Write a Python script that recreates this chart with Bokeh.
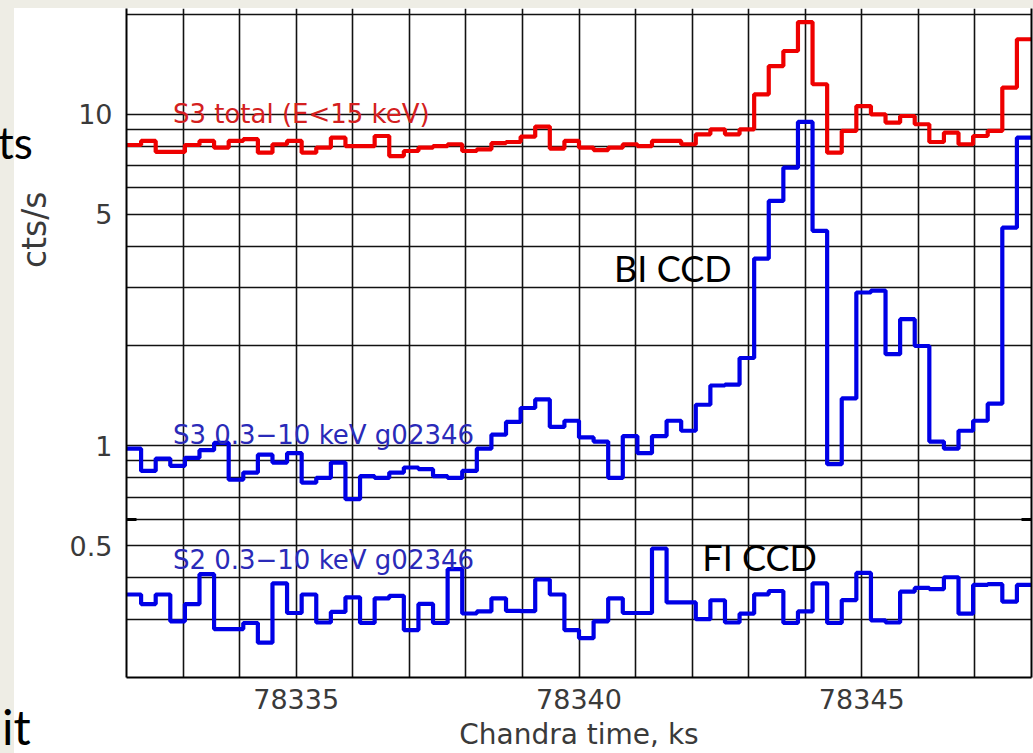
import numpy as np
from bokeh.plotting import figure
from bokeh.layouts import column
from bokeh.models import Range1d, FixedTicker, LogAxis, Label, Title, Div, CustomJSTickFormatter
from bokeh.embed import file_html
from bokeh.resources import INLINE

# ---------------- data ----------------
T_START = 78332.0          # ks, first bin edge
T_END = 78348.0            # ks, last bin edge
N_BINS = 62

# S3 total (E<15 keV), cts/s
s3_total = [8.08, 8.31, 7.70, 7.70, 8.08, 8.31, 7.93, 8.31, 8.41, 7.66,
            8.12, 8.31, 7.66, 7.93, 8.50, 8.02, 8.02, 8.60, 7.48, 7.75,
            7.93, 8.02, 8.12, 7.75, 7.84, 8.18, 8.25, 8.56, 9.18, 7.88,
            8.31, 7.93, 7.80, 7.93, 8.12, 8.02, 8.31, 8.31, 8.12, 8.70,
            9.01, 8.70, 9.01, 11.49, 13.98, 15.52, 18.98, 12.32, 7.66, 8.91,
            10.59, 10.0, 9.44, 9.88, 9.33, 8.25, 8.80, 8.12, 8.60, 8.91,
            12.04, 16.84]

# S3 0.3-10 keV g02346 (BI CCD), cts/s
s3_bi = [0.98, 0.84, 0.915, 0.87, 0.92, 0.97, 1.02, 0.79, 0.83, 0.94,
         0.89, 0.95, 0.774, 0.80, 0.89, 0.69, 0.81, 0.80, 0.83, 0.86,
         0.85, 0.81, 0.80, 0.84, 0.98, 1.08, 1.18, 1.30, 1.38, 1.14,
         1.19, 1.06, 1.03, 0.80, 1.07, 0.95, 1.07, 1.19, 1.11, 1.33,
         1.52, 1.53, 1.84, 3.67, 5.48, 6.90, 9.48, 4.45, 0.88, 1.39,
         2.90, 2.94, 1.89, 2.41, 2.00, 1.03, 0.98, 1.11, 1.19, 1.34,
         4.55, 8.50]

# S2 0.3-10 keV g02346 (FI CCD), cts/s
s2_fi = [0.356, 0.333, 0.356, 0.2955, 0.333, 0.410, 0.280, 0.280, 0.292, 0.2547,
         0.3846, 0.313, 0.356, 0.293, 0.3154, 0.349, 0.292, 0.3467, 0.3527, 0.278,
         0.3335, 0.292, 0.4245, 0.312, 0.3165, 0.3467, 0.3175, 0.317, 0.395, 0.356,
         0.278, 0.2628, 0.2955, 0.3467, 0.313, 0.313, 0.4899, 0.3369, 0.3369, 0.300,
         0.342, 0.293, 0.3115, 0.3565, 0.3647, 0.292, 0.3165, 0.3846, 0.292, 0.3425,
         0.4135, 0.2975, 0.293, 0.363, 0.3726, 0.3696, 0.4013, 0.3115, 0.3804, 0.3825,
         0.3387, 0.3804]

x_tick_values = [78335, 78340, 78345]
x_grid_values = [78333, 78334, 78335, 78336, 78337, 78338, 78339, 78340,
                 78341, 78342, 78343, 78344, 78345, 78346, 78347]
y_tick_values = [0.5, 1, 5, 10]
y_grid_values = [0.3, 0.4, 0.5, 0.6, 0.7, 0.8, 0.9, 1, 2, 3, 4, 5, 6, 7, 8, 9, 10, 20]
y_break_value = 0.6

# ---------------- figure ----------------
edges = T_START + (T_END - T_START) / N_BINS * np.arange(N_BINS + 1)


def stepped(vals):
    return list(vals) + [vals[-1]]


BEIGE = "#eeede5"
p = figure(width=1033, height=753,
           x_range=Range1d(T_START, T_END), y_range=Range1d(0.2, 20.85),
           y_axis_type="log", output_backend="svg", toolbar_location=None,
           min_border_left=126, min_border_right=2, min_border_top=8, min_border_bottom=76)
p.background_fill_color = "white"
p.border_fill_color = None
p.styles = {"background": "linear-gradient(to right, %s 14px, rgba(0,0,0,0) 14px), "
                          "linear-gradient(to bottom, %s 8px, #ffffff 8px)" % (BEIGE, BEIGE)}
p.outline_line_color = None

GRID = "#111111"
p.xgrid.ticker = FixedTicker(ticks=x_grid_values)
p.ygrid.ticker = FixedTicker(ticks=y_grid_values)
for g in (p.xgrid, p.ygrid):
    g.grid_line_color = GRID
    g.grid_line_width = 1.6
p.ygrid.minor_grid_line_color = None

TICK_FONT = "DejaVu Sans"
TXT = "#3a3a3a"
# x axis
xa = p.xaxis[0]
xa.ticker = FixedTicker(ticks=x_tick_values)
xa.major_tick_line_color = None
xa.major_tick_out = 0
xa.minor_tick_line_color = None
xa.axis_line_color = "black"
xa.axis_line_width = 2
xa.major_label_text_font = TICK_FONT
xa.major_label_text_font_size = "27px"
xa.major_label_text_color = TXT
xa.major_label_standoff = 11
xa.axis_label = "Chandra time, ks"
xa.axis_label_text_font = TICK_FONT
xa.axis_label_text_font_size = "28px"
xa.axis_label_text_font_style = "normal"
xa.axis_label_text_color = TXT
xa.axis_label_standoff = 6

# y axis
ya = p.yaxis[0]
ya.ticker = FixedTicker(ticks=y_tick_values, minor_ticks=[y_break_value])
ya.formatter = CustomJSTickFormatter(code="return tick.toString();")
ya.major_tick_line_color = None
ya.major_tick_out = 0
ya.minor_tick_in = 10
ya.minor_tick_out = 0
ya.minor_tick_line_width = 3
ya.minor_tick_line_color = "black"
ya.axis_line_color = "black"
ya.axis_line_width = 2
ya.major_label_text_font = TICK_FONT
ya.major_label_text_font_size = "27px"
ya.major_label_text_color = TXT
ya.major_label_standoff = 14

# y title, placed high on the left like the reference
p.add_layout(Title(text="cts/s", align="right", offset=183, standoff=25,
                   text_font=TICK_FONT, text_font_size="33px",
                   text_font_style="normal", text_color=TXT), "left")

# right frame edge with the panel-break tick
ra = LogAxis(ticker=FixedTicker(ticks=[], minor_ticks=[y_break_value]))
ra.major_tick_line_color = None
ra.major_tick_out = 0
ra.major_label_standoff = 0
ra.major_label_text_font_size = "0px"
ra.minor_tick_in = 10
ra.minor_tick_out = 0
ra.minor_tick_line_width = 3
ra.minor_tick_line_color = "black"
ra.axis_line_color = "black"
ra.axis_line_width = 2
p.add_layout(ra, "right")

# ---------------- curves ----------------
RED = "#ee0000"
BLUE = "#0000e6"
p.step(edges, stepped(s3_total), mode="after", line_color=RED, line_width=4.2)
p.step(edges, stepped(s3_bi), mode="after", line_color=BLUE, line_width=4.2)
p.step(edges, stepped(s2_fi), mode="after", line_color=BLUE, line_width=4.2)


# ---------------- labels ----------------
def lab(x, y, text, color, size, font=TICK_FONT):
    p.add_layout(Label(x=x, y=y, text=text, text_color=color, text_font=font,
                       text_font_size=size, text_align="left",
                       text_baseline="alphabetic"))


lab(78332.82, 10.05, "S3 total (E<15 keV)", "#d42020", "26px")
lab(78332.82, 1.075, "S3 0.3\u221210 keV g02346", "#2a2ab8", "26px")
lab(78332.82, 0.452, "S2 0.3\u221210 keV g02346", "#2a2ab8", "26px")

lab(78340.62, 3.43, "BI CCD", "black", "36px", font="Lato")
lab(78342.18, 0.461, "FI CCD", "black", "36px", font="Lato")


# fragments of the surrounding slide text, laid over the page edge
def slide_text(text, left, top, size):
    return Div(text=text, styles={"position": "absolute", "left": "%dpx" % left,
                                  "top": "%dpx" % top, "font-family": "Lato",
                                  "font-size": "%dpx" % size, "line-height": "%dpx" % size,
                                  "color": "black", "z-index": "10", "margin": "0",
                                  "padding": "0", "white-space": "nowrap"})


layout = column(p, slide_text("ts", -2, 120, 44), slide_text("it", 2, 703, 48), spacing=0)

open("out.html", "w").write(file_html(layout, INLINE))
